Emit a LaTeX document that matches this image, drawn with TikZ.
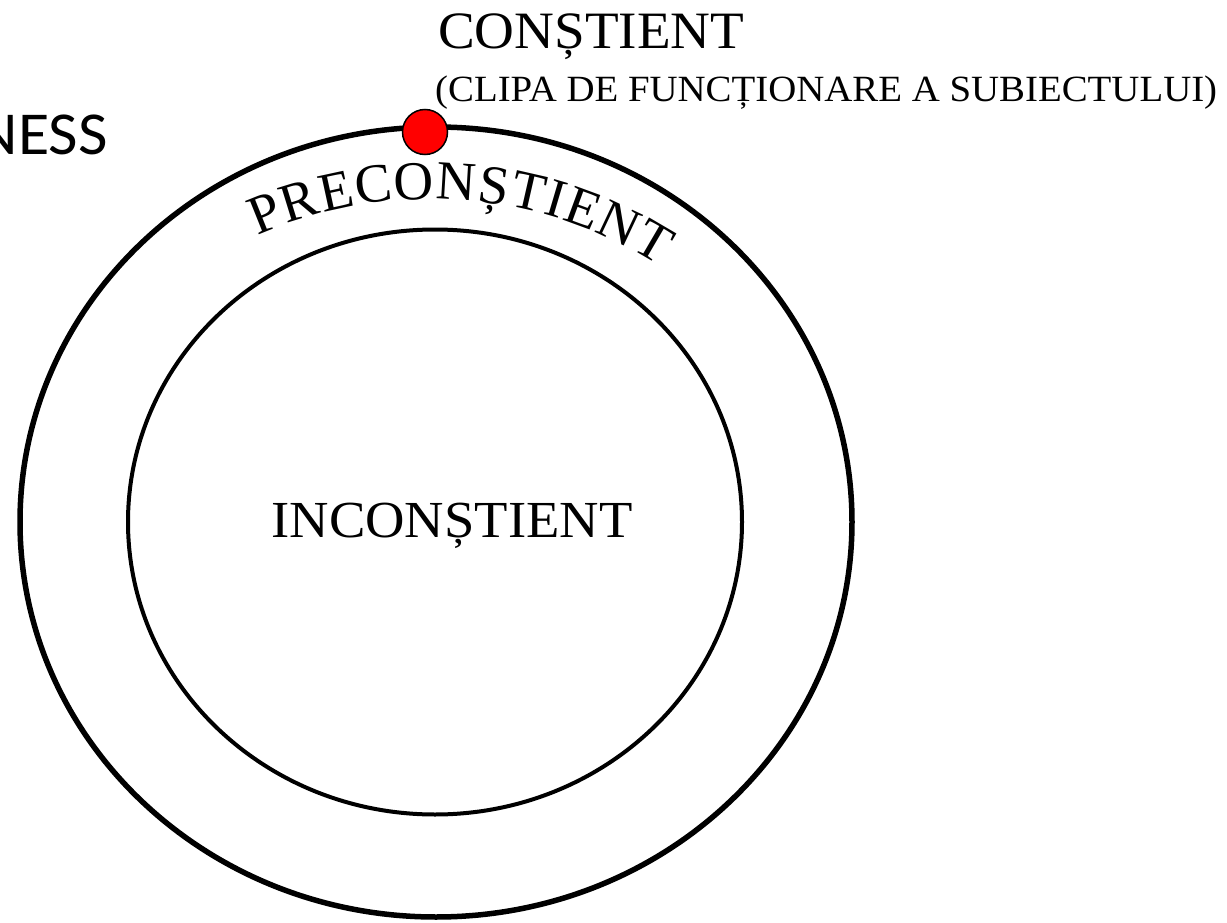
\documentclass[tikz,border=0pt]{standalone}
\usepackage{fontspec}
\setmainfont{Liberation Serif}
\newfontfamily\titlefont{Carlito}
\usetikzlibrary{decorations.text}
\tikzset{lbl/.style={inner sep=0pt,xscale=1.05},
  dot/.style={circle,draw,fill=red,line width=1.5pt,minimum size=45pt,inner sep=0pt}}
\begin{document}
\begin{tikzpicture}[x=1pt,y=1pt]
\useasboundingbox (0,0) rectangle (1227,-923);
\coordinate (O) at (436,-522);
\coordinate (Oi) at (435,-522);
\coordinate (A) at (430,-625);
\coordinate (K) at (425,-132);
\draw[line width=5.5pt] (O) ellipse[x radius=416,y radius=395];
\draw[line width=4pt] (Oi) ellipse[x radius=307,y radius=292.5];
\node[lbl,anchor=base east,font=\titlefont\fontsize{61}{61}\selectfont] (ness) at (108,-155) {NESS};
\node[lbl,anchor=base west,font=\fontsize{52.5}{52.5}\selectfont] (con) at (438,-49) {CONȘTIENT};
\node[lbl,anchor=base west,font=\fontsize{37}{37}\selectfont] (clipa) at (435,-102) {(CLIPA DE FUNCȚIONARE A SUBIECTULUI)};
\node[lbl,anchor=base,font=\fontsize{52}{52}\selectfont] (incon) at (452,-537) {INCONȘTIENT};
\path[decorate,decoration={text along path,text align={fit to path},
  text={|\fontsize{55}{55}\selectfont|PRECONȘTIENT}}]
  (A) ++(113.9:426) arc[start angle=113.9,end angle=57.4,radius=426];
\node[dot] (clipadot) at (K) {};
\end{tikzpicture}
\end{document}
